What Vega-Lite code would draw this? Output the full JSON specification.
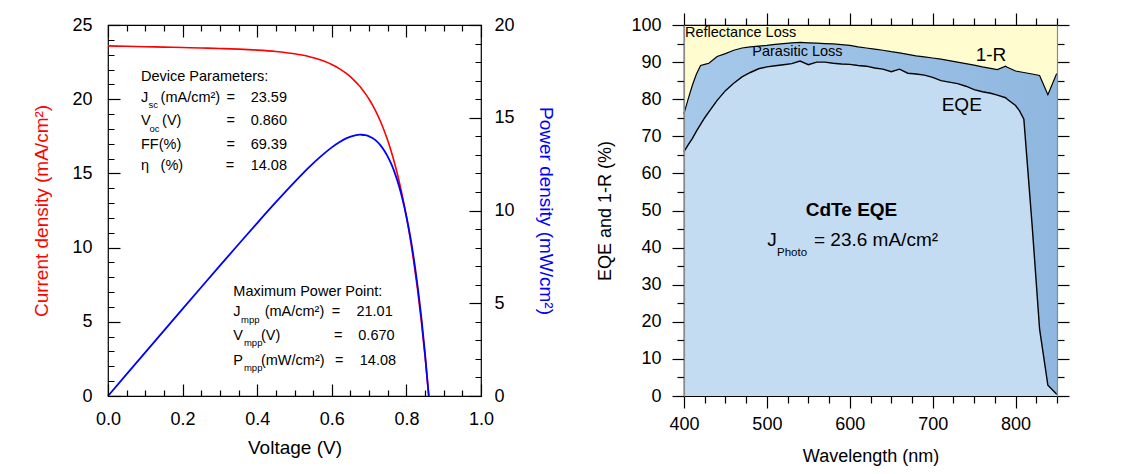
{
  "$schema": "https://vega.github.io/schema/vega-lite/v6.json",
  "padding": {"left": 32, "top": 11, "right": 0, "bottom": 0},
  "spacing": 203,
  "bounds": "flush",
  "config": {
    "font": "Liberation Sans",
    "view": {"stroke": "#000000", "strokeWidth": 1.2},
    "axis": {
      "grid": false,
      "labelFont": "Liberation Sans",
      "titleFont": "Liberation Sans",
      "labelFontSize": 18,
      "titleFontSize": 19,
      "titleFontWeight": "normal",
      "labelColor": "#000000",
      "titleColor": "#000000",
      "tickColor": "#000000",
      "domainColor": "#000000",
      "tickWidth": 1.2,
      "domainWidth": 1.2,
      "labelFlush": false,
      "labelOverlap": false,
      "labelBound": false
    },
    "text": {"font": "Liberation Sans", "color": "#000000"}
  },
  "datasets": {
    "jv": [
      {"V": 0, "J": 23.59, "P": 0},
      {"V": 0.05, "J": 23.565, "P": 1.178},
      {"V": 0.1, "J": 23.539, "P": 2.354},
      {"V": 0.15, "J": 23.512, "P": 3.527},
      {"V": 0.2, "J": 23.484, "P": 4.697},
      {"V": 0.25, "J": 23.453, "P": 5.863},
      {"V": 0.3, "J": 23.417, "P": 7.025},
      {"V": 0.35, "J": 23.371, "P": 8.18},
      {"V": 0.4, "J": 23.309, "P": 9.324},
      {"V": 0.45, "J": 23.215, "P": 10.447},
      {"V": 0.5, "J": 23.062, "P": 11.531},
      {"V": 0.52, "J": 22.974, "P": 11.946},
      {"V": 0.54, "J": 22.865, "P": 12.347},
      {"V": 0.56, "J": 22.728, "P": 12.728},
      {"V": 0.58, "J": 22.556, "P": 13.082},
      {"V": 0.6, "J": 22.34, "P": 13.404},
      {"V": 0.62, "J": 22.065, "P": 13.68},
      {"V": 0.64, "J": 21.716, "P": 13.898},
      {"V": 0.66, "J": 21.273, "P": 14.04},
      {"V": 0.67, "J": 21.01, "P": 14.077},
      {"V": 0.675, "J": 20.866, "P": 14.085},
      {"V": 0.68, "J": 20.71, "P": 14.083},
      {"V": 0.69, "J": 20.373, "P": 14.057},
      {"V": 0.7, "J": 19.995, "P": 13.997},
      {"V": 0.71, "J": 19.562, "P": 13.889},
      {"V": 0.72, "J": 19.078, "P": 13.736},
      {"V": 0.73, "J": 18.529, "P": 13.526},
      {"V": 0.74, "J": 17.908, "P": 13.252},
      {"V": 0.75, "J": 17.211, "P": 12.908},
      {"V": 0.76, "J": 16.424, "P": 12.482},
      {"V": 0.77, "J": 15.533, "P": 11.96},
      {"V": 0.78, "J": 14.525, "P": 11.33},
      {"V": 0.79, "J": 13.385, "P": 10.574},
      {"V": 0.8, "J": 12.098, "P": 9.678},
      {"V": 0.81, "J": 10.65, "P": 8.627},
      {"V": 0.82, "J": 9.004, "P": 7.383},
      {"V": 0.83, "J": 7.145, "P": 5.93},
      {"V": 0.84, "J": 5.044, "P": 4.237},
      {"V": 0.85, "J": 2.668, "P": 2.268},
      {"V": 0.86, "J": 0, "P": 0}
    ],
    "ivNotes": [
      {"t": "Device Parameters:", "V": 0.0885, "J": 21.48},
      {"t": "J", "V": 0.0885, "J": 20.06},
      {"t": "(mA/cm²)", "V": 0.141, "J": 20.06},
      {"t": "=", "V": 0.318, "J": 20.06},
      {"t": "23.59", "V": 0.3825, "J": 20.06},
      {"t": "V", "V": 0.0885, "J": 18.51},
      {"t": "(V)", "V": 0.145, "J": 18.51},
      {"t": "=", "V": 0.318, "J": 18.51},
      {"t": "0.860", "V": 0.3825, "J": 18.51},
      {"t": "FF(%)", "V": 0.0885, "J": 16.94},
      {"t": "=", "V": 0.318, "J": 16.94},
      {"t": "69.39", "V": 0.3825, "J": 16.94},
      {"t": "η", "V": 0.0885, "J": 15.48},
      {"t": "(%)", "V": 0.141, "J": 15.48},
      {"t": "=", "V": 0.3155, "J": 15.48},
      {"t": "14.08", "V": 0.3825, "J": 15.48},
      {"t": "Maximum Power Point:", "V": 0.336, "J": 7.03},
      {"t": "J", "V": 0.336, "J": 5.64},
      {"t": "(mA/cm²)", "V": 0.42, "J": 5.64},
      {"t": "=", "V": 0.5997, "J": 5.64},
      {"t": "21.01", "V": 0.666, "J": 5.64},
      {"t": "V", "V": 0.336, "J": 4.07},
      {"t": "(V)", "V": 0.41, "J": 4.07},
      {"t": "=", "V": 0.606, "J": 4.07},
      {"t": "0.670", "V": 0.671, "J": 4.07},
      {"t": "P", "V": 0.336, "J": 2.34},
      {"t": "(mW/cm²)", "V": 0.41, "J": 2.34},
      {"t": "=", "V": 0.6086, "J": 2.34},
      {"t": "14.08", "V": 0.675, "J": 2.34}
    ],
    "ivSubs": [
      {"t": "sc", "V": 0.1085, "J": 19.59},
      {"t": "oc", "V": 0.1115, "J": 18.02},
      {"t": "mpp", "V": 0.3565, "J": 5.15},
      {"t": "mpp", "V": 0.3645, "J": 3.6},
      {"t": "mpp", "V": 0.3645, "J": 1.91}
    ],
    "eqe": [
      {"nm": 400, "R1": 76.1, "EQE": 65.9},
      {"nm": 405, "R1": 80.0, "EQE": 67.7},
      {"nm": 410, "R1": 83.7, "EQE": 69.4},
      {"nm": 415, "R1": 86.8, "EQE": 71.4},
      {"nm": 420, "R1": 89.1, "EQE": 73.2},
      {"nm": 425, "R1": 89.4, "EQE": 75.0},
      {"nm": 430, "R1": 89.7, "EQE": 76.6},
      {"nm": 440, "R1": 91.5, "EQE": 79.7},
      {"nm": 450, "R1": 92.3, "EQE": 82.3},
      {"nm": 460, "R1": 93.2, "EQE": 84.3},
      {"nm": 470, "R1": 93.8, "EQE": 86.0},
      {"nm": 480, "R1": 94.1, "EQE": 87.2},
      {"nm": 490, "R1": 94.3, "EQE": 88.2},
      {"nm": 500, "R1": 94.5, "EQE": 88.7},
      {"nm": 510, "R1": 94.8, "EQE": 89.0},
      {"nm": 520, "R1": 95.0, "EQE": 89.3},
      {"nm": 530, "R1": 95.2, "EQE": 89.6},
      {"nm": 540, "R1": 95.3, "EQE": 90.3},
      {"nm": 550, "R1": 95.2, "EQE": 89.3},
      {"nm": 560, "R1": 95.1, "EQE": 90.0},
      {"nm": 570, "R1": 95.0, "EQE": 90.0},
      {"nm": 580, "R1": 94.9, "EQE": 89.7},
      {"nm": 590, "R1": 94.7, "EQE": 89.5},
      {"nm": 600, "R1": 94.5, "EQE": 89.4},
      {"nm": 610, "R1": 94.1, "EQE": 89.1},
      {"nm": 620, "R1": 93.8, "EQE": 88.9},
      {"nm": 630, "R1": 93.5, "EQE": 88.4},
      {"nm": 640, "R1": 93.2, "EQE": 88.1},
      {"nm": 650, "R1": 92.8, "EQE": 87.4},
      {"nm": 660, "R1": 92.5, "EQE": 88.1},
      {"nm": 670, "R1": 92.1, "EQE": 87.0},
      {"nm": 680, "R1": 91.7, "EQE": 86.8},
      {"nm": 690, "R1": 91.4, "EQE": 86.5},
      {"nm": 700, "R1": 91.1, "EQE": 85.9},
      {"nm": 710, "R1": 90.8, "EQE": 85.0},
      {"nm": 720, "R1": 90.4, "EQE": 84.6},
      {"nm": 730, "R1": 90.0, "EQE": 84.2},
      {"nm": 740, "R1": 89.6, "EQE": 83.5},
      {"nm": 750, "R1": 89.2, "EQE": 82.6},
      {"nm": 760, "R1": 88.7, "EQE": 82.0},
      {"nm": 770, "R1": 88.3, "EQE": 81.6},
      {"nm": 778, "R1": 88.0, "EQE": 81.1},
      {"nm": 788, "R1": 88.9, "EQE": 80.4},
      {"nm": 790, "R1": 88.6, "EQE": 80.0},
      {"nm": 800, "R1": 87.6, "EQE": 78.3},
      {"nm": 805, "R1": 87.4, "EQE": 76.8},
      {"nm": 810, "R1": 87.2, "EQE": 74.6},
      {"nm": 820, "R1": 86.8, "EQE": 46.0},
      {"nm": 829, "R1": 86.4, "EQE": 18.0},
      {"nm": 839, "R1": 81.2, "EQE": 2.9},
      {"nm": 849, "R1": 86.6, "EQE": 0.6},
      {"nm": 850, "R1": 86.9, "EQE": 0.5}
    ],
    "eqeSmall": [
      {"t": "Reflectance Loss", "nm": 401.2, "pct": 97.8},
      {"t": "Parasitic Loss", "nm": 482.4, "pct": 92.6}
    ],
    "eqeLarge": [
      {"t": "1-R", "nm": 751.9, "pct": 92.0},
      {"t": "EQE", "nm": 710.9, "pct": 78.5},
      {"t": "J", "nm": 500.5, "pct": 42.0},
      {"t": "= 23.6 mA/cm²", "nm": 556.8, "pct": 42.0}
    ],
    "eqeTitle": [
      {"t": "CdTe EQE", "nm": 602.1, "pct": 50.1}
    ],
    "eqeSub": [
      {"t": "Photo", "nm": 512.2, "pct": 38.5}
    ]
  },
  "hconcat": [
    {
      "width": 373,
      "height": 371,
      "data": {"name": "jv"},
      "layer": [
        {
          "mark": {"type": "line", "color": "#ff0000", "strokeWidth": 1.6, "interpolate": "monotone"},
          "encoding": {
            "x": {
              "field": "V", "type": "quantitative", "title": "Voltage (V)",
              "scale": {"domain": [0, 1], "nice": false},
              "axis": {
                "orient": "bottom",
                "zindex": 2,
                "offset": -12,
                "domain": false,
                "labelOverlap": false,
                "values": [0, 0.05, 0.1, 0.15, 0.2, 0.25, 0.3, 0.35, 0.4, 0.45, 0.5, 0.55, 0.6, 0.65, 0.7, 0.75, 0.8, 0.85, 0.9, 0.95, 1],
                "labelExpr": "abs(datum.value * 5 - round(datum.value * 5)) < 0.001 ? format(datum.value, '.1f') : ''",
                "tickSize": 12,
                "tickDash": {"condition": {"test": "abs(datum.value * 5 - round(datum.value * 5)) < 0.001", "value": []}, "value": [0, 6, 6, 0]},
                "labelPadding": 14.5,
                "titlePadding": 10
              }
            },
            "y": {
              "field": "J", "type": "quantitative", "title": "Current density (mA/cm²)",
              "scale": {"domain": [0, 25], "nice": false},
              "axis": {
                "orient": "left",
                "zindex": 2,
                "offset": -12,
                "domain": false,
                "labelOverlap": false,
                "values": [0, 1, 2, 3, 4, 5, 6, 7, 8, 9, 10, 11, 12, 13, 14, 15, 16, 17, 18, 19, 20, 21, 22, 23, 24, 25],
                "labelExpr": "datum.value % 5 === 0 ? datum.label : ''",
                "tickSize": 12,
                "tickDash": {"condition": {"test": "datum.value % 5 === 0", "value": []}, "value": [0, 6, 6, 0]},
                "labelPadding": 16,
                "titlePadding": 20,
                "titleColor": "#ff0000"
              }
            }
          }
        },
        {
          "mark": {"type": "line", "color": "#0000ff", "strokeWidth": 1.8, "interpolate": "monotone"},
          "encoding": {
            "x": {
              "field": "V", "type": "quantitative",
              "scale": {"domain": [0, 1], "nice": false},
              "axis": {
                "orient": "top",
                "zindex": 2,
                "offset": -12,
                "domain": false,
                "values": [0, 0.05, 0.1, 0.15, 0.2, 0.25, 0.3, 0.35, 0.4, 0.45, 0.5, 0.55, 0.6, 0.65, 0.7, 0.75, 0.8, 0.85, 0.9, 0.95, 1],
                "labels": false,
                "title": null,
                "tickSize": 12,
                "tickDash": {"condition": {"test": "abs(datum.value * 5 - round(datum.value * 5)) < 0.001", "value": []}, "value": [0, 6, 6, 0]}
              }
            },
            "y": {
              "field": "P", "type": "quantitative", "title": "Power density (mW/cm²)",
              "scale": {"domain": [0, 20], "nice": false},
              "axis": {
                "orient": "right",
                "zindex": 2,
                "offset": -12,
                "domain": false,
                "labelOverlap": false,
                "values": [0, 1, 2, 3, 4, 5, 6, 7, 8, 9, 10, 11, 12, 13, 14, 15, 16, 17, 18, 19, 20],
                "labelExpr": "datum.value % 5 === 0 ? datum.label : ''",
                "tickSize": 12,
                "tickDash": {"condition": {"test": "datum.value % 5 === 0", "value": []}, "value": [0, 6, 6, 0]},
                "labelPadding": 13,
                "titlePadding": 21,
                "titleColor": "#0000ff"
              }
            }
          }
        },
        {
          "encoding": {
            "x": {"field": "V", "type": "quantitative", "scale": {"domain": [0, 1], "nice": false}, "axis": null},
            "y": {"field": "J", "type": "quantitative", "scale": {"domain": [0, 25], "nice": false}, "axis": null}
          },
          "layer": [
            {
              "data": {"name": "ivNotes"},
              "mark": {"type": "text", "align": "left", "baseline": "middle", "fontSize": 14.5},
              "encoding": {"text": {"field": "t"}}
            },
            {
              "data": {"name": "ivSubs"},
              "mark": {"type": "text", "align": "left", "baseline": "middle", "fontSize": 9.5},
              "encoding": {"text": {"field": "t"}}
            }
          ]
        }
      ],
      "resolve": {"scale": {"x": "independent", "y": "independent"}}
    },
    {
      "width": 373,
      "height": 371,
      "data": {"name": "eqe"},
      "layer": [
        {
          "encoding": {
            "x": {
              "field": "nm", "type": "quantitative", "title": "Wavelength (nm)",
              "scale": {"domain": [400, 850], "nice": false},
              "axis": {
                "orient": "bottom",
                "zindex": 2,
                "labelOverlap": false,
                "values": [400, 425, 450, 475, 500, 525, 550, 575, 600, 625, 650, 675, 700, 725, 750, 775, 800, 825, 850],
                "labelExpr": "datum.value % 100 === 0 ? datum.label : ''",
                "tickSize": {"condition": {"test": "datum.value % 100 === 0", "value": 12}, "value": 7},
                "labelPadding": 7,
                "titlePadding": 14,
                "titleFontSize": 18
              }
            }
          },
          "layer": [
            {
              "mark": {"type": "area", "color": "#fffdd0"},
              "encoding": {
                "y": {
                  "field": "R1", "type": "quantitative", "title": "EQE and 1-R (%)", "stack": null,
                  "scale": {"domain": [0, 100], "nice": false},
                  "axis": {"orient": "left", "zindex": 2, "labelOverlap": false, "domainColor": "#8a8a8a", "values": [0, 5, 10, 15, 20, 25, 30, 35, 40, 45, 50, 55, 60, 65, 70, 75, 80, 85, 90, 95, 100], "labelExpr": "datum.value % 10 === 0 ? datum.label : ''", "tickSize": {"condition": {"test": "datum.value % 10 === 0", "value": 12}, "value": 7}, "labelPadding": 11, "titlePadding": 16, "titleFontSize": 18}
                },
                "y2": {"datum": 100}
              }
            },
            {
              "mark": {
                "type": "area",
                "color": {"gradient": "linear", "x1": 0, "y1": 0, "x2": 1, "y2": 0, "stops": [{"offset": 0, "color": "#a6c9ea"}, {"offset": 1, "color": "#8fb7df"}]}
              },
              "encoding": {
                "y": {
                  "field": "R1", "type": "quantitative", "title": "EQE and 1-R (%)", "stack": null,
                  "axis": {"orient": "left", "zindex": 2, "labelOverlap": false, "domainColor": "#8a8a8a", "values": [0, 5, 10, 15, 20, 25, 30, 35, 40, 45, 50, 55, 60, 65, 70, 75, 80, 85, 90, 95, 100], "labelExpr": "datum.value % 10 === 0 ? datum.label : ''", "tickSize": {"condition": {"test": "datum.value % 10 === 0", "value": 12}, "value": 7}, "labelPadding": 11, "titlePadding": 16, "titleFontSize": 18}
                }
              }
            },
            {
              "mark": {"type": "area", "color": "#c4dcf2"},
              "encoding": {
                "y": {
                  "field": "EQE", "type": "quantitative", "title": "EQE and 1-R (%)", "stack": null,
                  "axis": {"orient": "left", "zindex": 2, "labelOverlap": false, "domainColor": "#8a8a8a", "values": [0, 5, 10, 15, 20, 25, 30, 35, 40, 45, 50, 55, 60, 65, 70, 75, 80, 85, 90, 95, 100], "labelExpr": "datum.value % 10 === 0 ? datum.label : ''", "tickSize": {"condition": {"test": "datum.value % 10 === 0", "value": 12}, "value": 7}, "labelPadding": 11, "titlePadding": 16, "titleFontSize": 18}
                }
              }
            },
            {
              "mark": {"type": "line", "color": "#000000", "strokeWidth": 1.4},
              "encoding": {
                "y": {
                  "field": "EQE", "type": "quantitative", "title": "EQE and 1-R (%)",
                  "axis": {"orient": "left", "zindex": 2, "labelOverlap": false, "domainColor": "#8a8a8a", "values": [0, 5, 10, 15, 20, 25, 30, 35, 40, 45, 50, 55, 60, 65, 70, 75, 80, 85, 90, 95, 100], "labelExpr": "datum.value % 10 === 0 ? datum.label : ''", "tickSize": {"condition": {"test": "datum.value % 10 === 0", "value": 12}, "value": 7}, "labelPadding": 11, "titlePadding": 16, "titleFontSize": 18}
                }
              }
            },
            {
              "data": {"name": "eqeSmall"},
              "mark": {"type": "text", "align": "left", "baseline": "middle", "fontSize": 14.5},
              "encoding": {
                "y": {
                  "field": "pct", "type": "quantitative", "title": "EQE and 1-R (%)",
                  "axis": {"orient": "left", "zindex": 2, "labelOverlap": false, "domainColor": "#8a8a8a", "values": [0, 5, 10, 15, 20, 25, 30, 35, 40, 45, 50, 55, 60, 65, 70, 75, 80, 85, 90, 95, 100], "labelExpr": "datum.value % 10 === 0 ? datum.label : ''", "tickSize": {"condition": {"test": "datum.value % 10 === 0", "value": 12}, "value": 7}, "labelPadding": 11, "titlePadding": 16, "titleFontSize": 18}
                },
                "text": {"field": "t"}
              }
            },
            {
              "data": {"name": "eqeLarge"},
              "mark": {"type": "text", "align": "left", "baseline": "middle", "fontSize": 19},
              "encoding": {
                "y": {
                  "field": "pct", "type": "quantitative", "title": "EQE and 1-R (%)",
                  "axis": {"orient": "left", "zindex": 2, "labelOverlap": false, "domainColor": "#8a8a8a", "values": [0, 5, 10, 15, 20, 25, 30, 35, 40, 45, 50, 55, 60, 65, 70, 75, 80, 85, 90, 95, 100], "labelExpr": "datum.value % 10 === 0 ? datum.label : ''", "tickSize": {"condition": {"test": "datum.value % 10 === 0", "value": 12}, "value": 7}, "labelPadding": 11, "titlePadding": 16, "titleFontSize": 18}
                },
                "text": {"field": "t"}
              }
            },
            {
              "data": {"name": "eqeTitle"},
              "mark": {"type": "text", "align": "center", "baseline": "middle", "fontSize": 19, "fontWeight": "bold"},
              "encoding": {
                "y": {
                  "field": "pct", "type": "quantitative", "title": "EQE and 1-R (%)",
                  "axis": {"orient": "left", "zindex": 2, "labelOverlap": false, "domainColor": "#8a8a8a", "values": [0, 5, 10, 15, 20, 25, 30, 35, 40, 45, 50, 55, 60, 65, 70, 75, 80, 85, 90, 95, 100], "labelExpr": "datum.value % 10 === 0 ? datum.label : ''", "tickSize": {"condition": {"test": "datum.value % 10 === 0", "value": 12}, "value": 7}, "labelPadding": 11, "titlePadding": 16, "titleFontSize": 18}
                },
                "text": {"field": "t"}
              }
            },
            {
              "data": {"name": "eqeSub"},
              "mark": {"type": "text", "align": "left", "baseline": "middle", "fontSize": 11.5},
              "encoding": {
                "y": {
                  "field": "pct", "type": "quantitative", "title": "EQE and 1-R (%)",
                  "axis": {"orient": "left", "zindex": 2, "labelOverlap": false, "domainColor": "#8a8a8a", "values": [0, 5, 10, 15, 20, 25, 30, 35, 40, 45, 50, 55, 60, 65, 70, 75, 80, 85, 90, 95, 100], "labelExpr": "datum.value % 10 === 0 ? datum.label : ''", "tickSize": {"condition": {"test": "datum.value % 10 === 0", "value": 12}, "value": 7}, "labelPadding": 11, "titlePadding": 16, "titleFontSize": 18}
                },
                "text": {"field": "t"}
              }
            }
          ]
        },
        {
          "mark": {"type": "line", "color": "#000000", "strokeWidth": 1.2},
          "encoding": {
            "x": {
              "field": "nm", "type": "quantitative",
              "scale": {"domain": [400, 850], "nice": false},
              "axis": {
                "orient": "top",
                "zindex": 2,
                "values": [400, 425, 450, 475, 500, 525, 550, 575, 600, 625, 650, 675, 700, 725, 750, 775, 800, 825, 850],
                "labels": false,
                "title": null,
                "tickSize": {"condition": {"test": "datum.value % 100 === 0", "value": 12}, "value": 7}
              }
            },
            "y": {
              "field": "R1", "type": "quantitative",
              "scale": {"domain": [0, 100], "nice": false},
              "axis": {
                "orient": "right",
                "zindex": 2,
                "domainColor": "#8a8a8a",
                "values": [0, 5, 10, 15, 20, 25, 30, 35, 40, 45, 50, 55, 60, 65, 70, 75, 80, 85, 90, 95, 100],
                "labels": false,
                "title": null,
                "tickSize": {"condition": {"test": "datum.value % 10 === 0", "value": 12}, "value": 7}
              }
            }
          }
        }
      ],
      "resolve": {"scale": {"x": "independent", "y": "independent"}}
    }
  ]
}
